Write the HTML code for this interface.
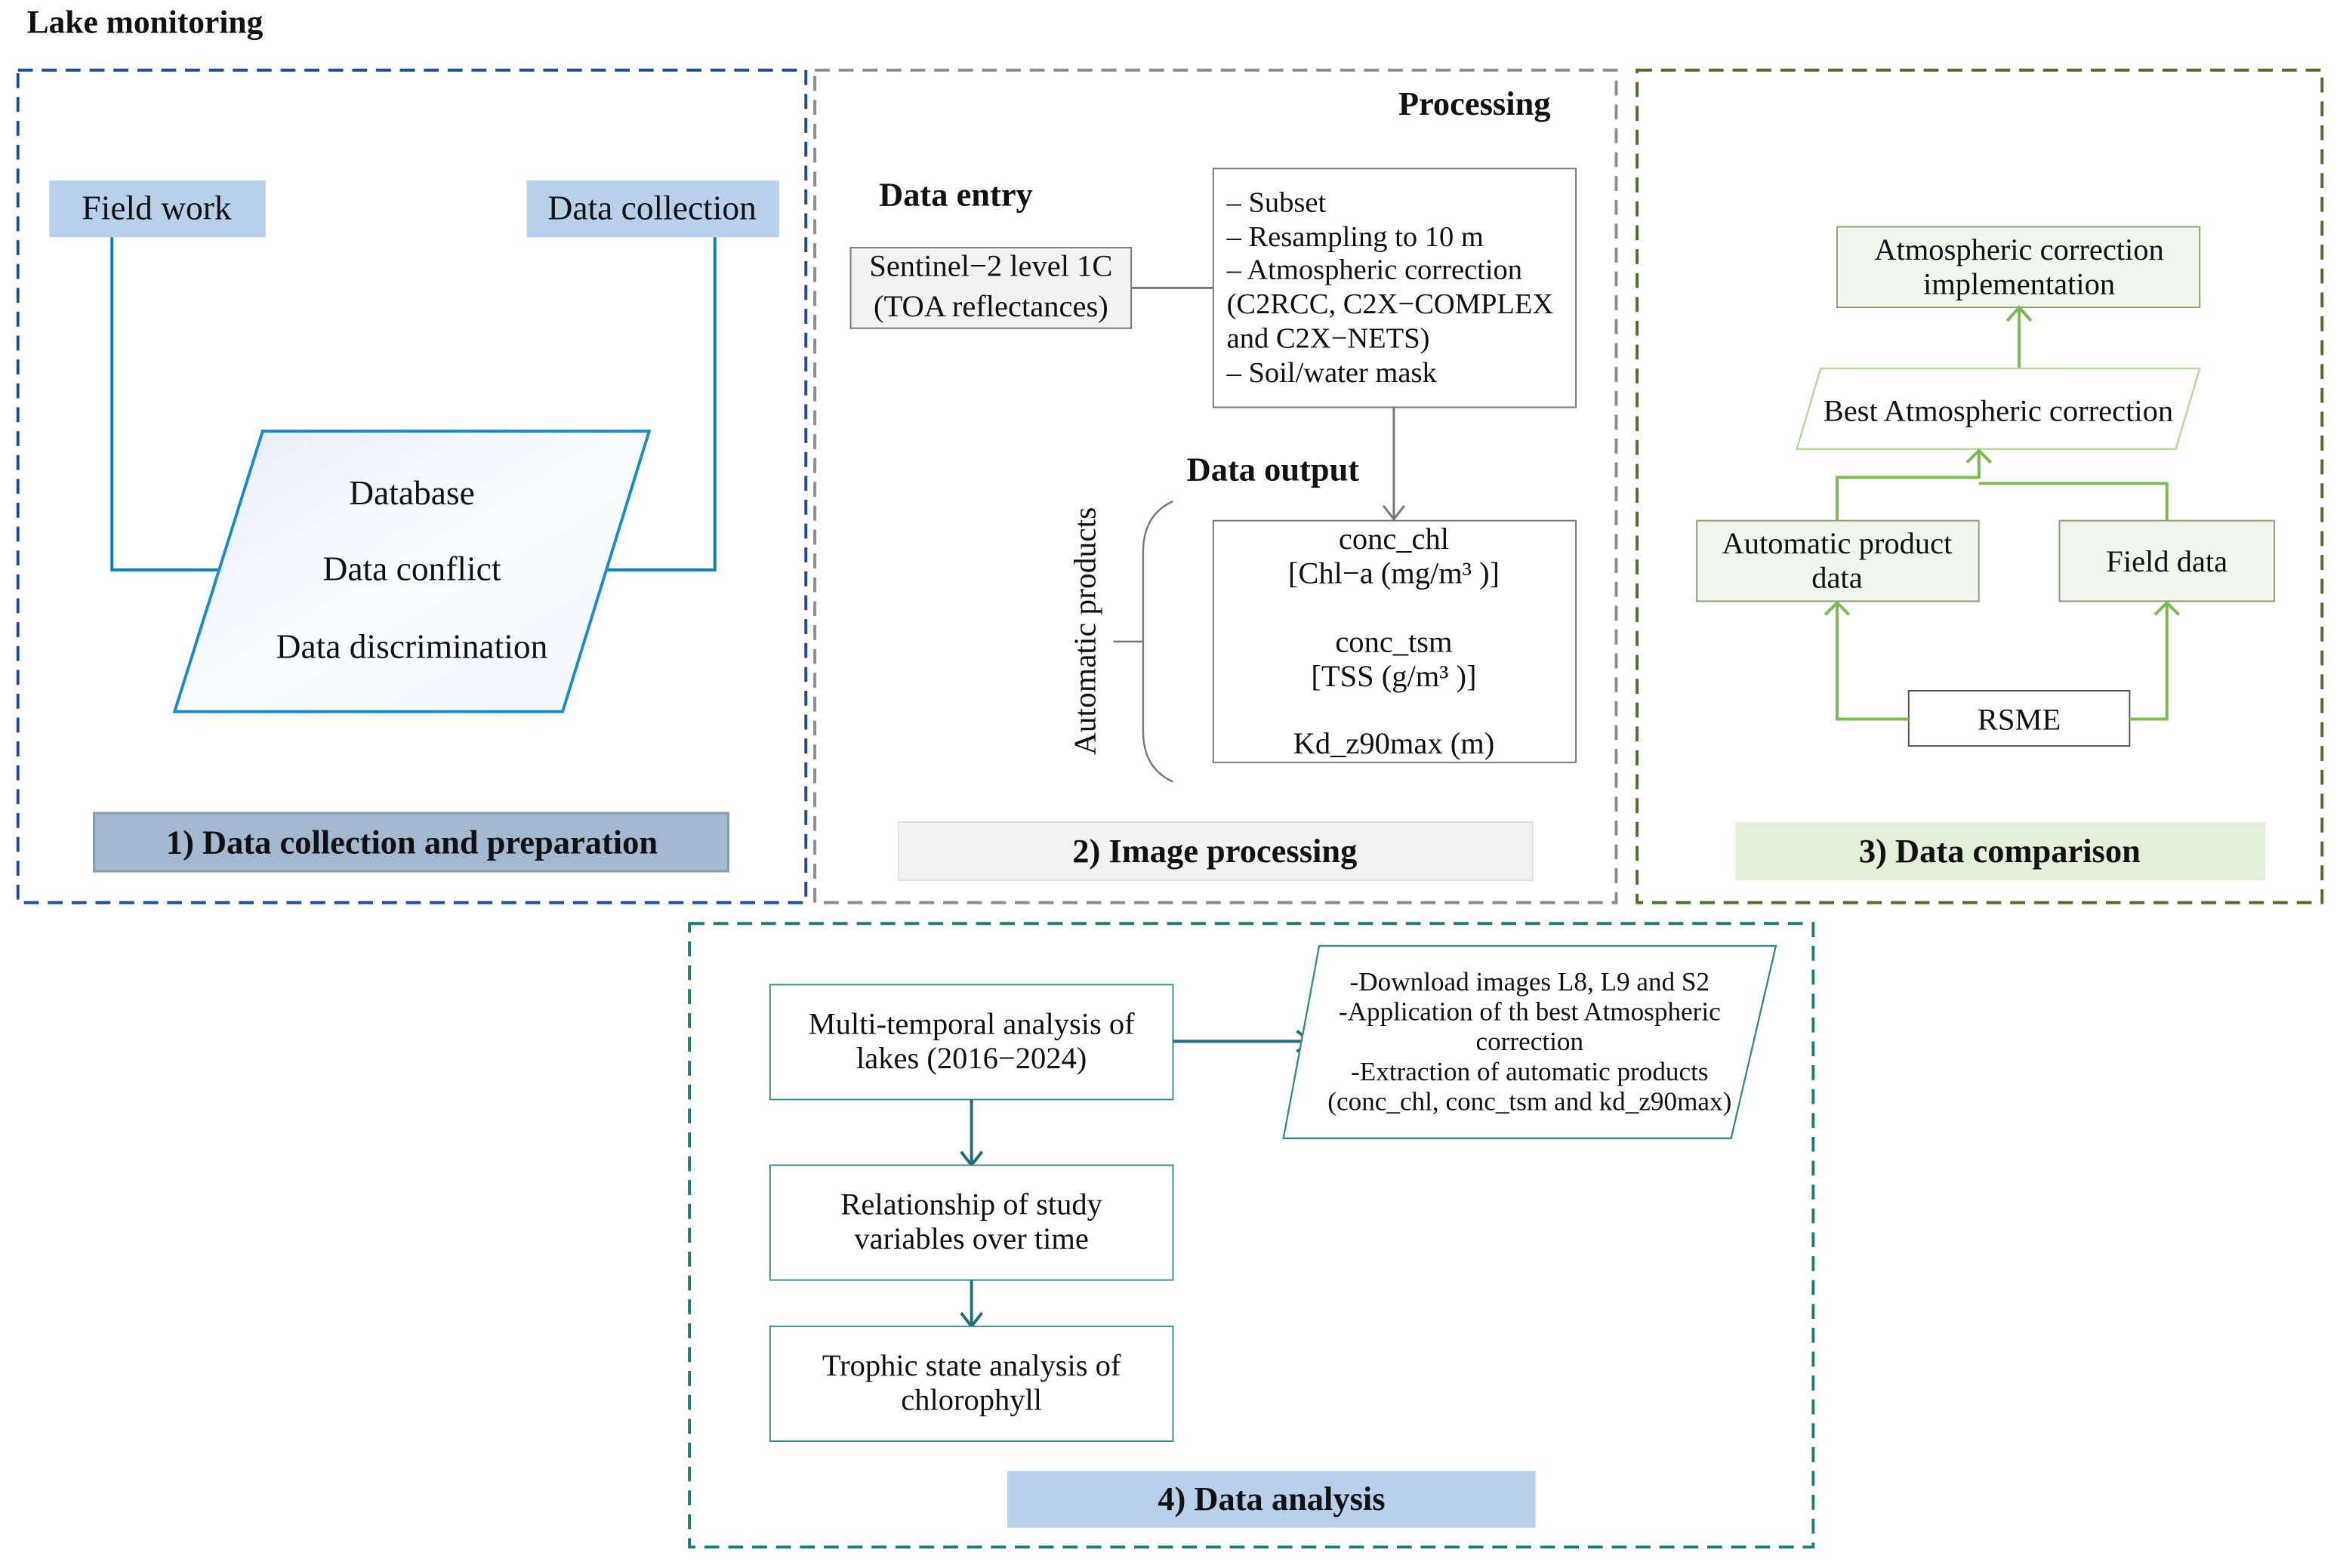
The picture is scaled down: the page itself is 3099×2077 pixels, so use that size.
<!DOCTYPE html>
<html><head><meta charset="utf-8"><style>
html,body{margin:0;padding:0;background:#fff;}
svg{display:block;}
text{font-family:"Liberation Serif",serif;fill:#111;}
.b{font-weight:bold;}
</style></head><body>
<svg width="3099" height="2077" viewBox="0 0 1568 1051" preserveAspectRatio="none" xmlns="http://www.w3.org/2000/svg">
<defs>
<linearGradient id="g1" x1="0" y1="0" x2="1" y2="1"><stop offset="0" stop-color="#e6ebf6"/><stop offset="0.5" stop-color="#fafcff"/><stop offset="1" stop-color="#f2f6fb"/></linearGradient>
</defs>
<text x="18" y="22" font-size="22" class="b">Lake monitoring</text>

<!-- Box 1 -->
<rect x="12" y="47" width="528" height="558" fill="none" stroke="#1f4e96" stroke-width="2" stroke-dasharray="10,6"/>
<rect x="33" y="121" width="145" height="38" fill="#b8d0ea"/>
<text x="105" y="147" font-size="23" text-anchor="middle">Field work</text>
<rect x="353" y="121" width="169" height="38" fill="#b8d0ea"/>
<text x="437" y="147" font-size="23" text-anchor="middle">Data collection</text>
<polyline points="75,159 75,382 147,382" fill="none" stroke="#0a7fc7" stroke-width="2"/>
<polyline points="479,159 479,382 405,382" fill="none" stroke="#0a7fc7" stroke-width="2"/>
<polygon points="176,289 435,289 377,477 117,477" fill="url(#g1)" stroke="#1a8ac9" stroke-width="2"/>
<text x="276" y="338" font-size="23" text-anchor="middle">Database</text>
<text x="276" y="389" font-size="23" text-anchor="middle">Data conflict</text>
<text x="276" y="441" font-size="23" text-anchor="middle">Data discrimination</text>
<rect x="63" y="545" width="425" height="39" fill="#a3b8d1" stroke="#8a9bb0" stroke-width="1.5"/>
<text x="276" y="572" font-size="22.5" text-anchor="middle" class="b">1) Data collection and preparation</text>

<!-- Box 2 -->
<rect x="546" y="47" width="537" height="558" fill="none" stroke="#8c8c8c" stroke-width="2" stroke-dasharray="10,6"/>
<text x="988" y="77" font-size="22.5" text-anchor="middle" class="b">Processing</text>
<text x="589" y="138" font-size="22.5" class="b">Data entry</text>
<rect x="570" y="166" width="188" height="54" fill="#f2f2f2" stroke="#777" stroke-width="1"/>
<text x="664" y="185" font-size="20.5" text-anchor="middle">Sentinel−2 level 1C</text>
<text x="664" y="212" font-size="20.5" text-anchor="middle">(TOA reflectances)</text>
<line x1="758" y1="193" x2="813" y2="193" stroke="#777" stroke-width="1.5"/>
<rect x="813" y="113" width="243" height="160" fill="#fff" stroke="#777" stroke-width="1"/>
<g font-size="19.5">
<text x="822" y="142">– Subset</text>
<text x="822" y="165">– Resampling to 10 m</text>
<text x="822" y="187">– Atmospheric correction</text>
<text x="822" y="210">(C2RCC, C2X−COMPLEX</text>
<text x="822" y="233">and C2X−NETS)</text>
<text x="822" y="256">– Soil/water mask</text>
</g>
<line x1="934" y1="273" x2="934" y2="348" stroke="#777" stroke-width="1.5"/>
<polyline points="927,339 934,348 941,339" fill="none" stroke="#777" stroke-width="1.5"/>
<text x="853" y="322" font-size="22.5" text-anchor="middle" class="b">Data output</text>
<rect x="813" y="349" width="243" height="162" fill="#fff" stroke="#777" stroke-width="1"/>
<g font-size="20.5" text-anchor="middle">
<text x="934" y="368">conc_chl</text>
<text x="934" y="391">[Chl−a (mg/m³ )]</text>
<text x="934" y="437">conc_tsm</text>
<text x="934" y="460">[TSS (g/m³ )]</text>
<text x="934" y="505">Kd_z90max (m)</text>
</g>
<path d="M786,336 Q766,345 766,370 L766,490 Q766,515 786,524" fill="none" stroke="#777" stroke-width="1.2"/>
<line x1="746" y1="430" x2="766" y2="430" stroke="#777" stroke-width="1.2"/>
<text transform="translate(734,423) rotate(-90)" font-size="21" text-anchor="middle">Automatic products</text>
<rect x="602" y="551" width="425" height="39" fill="#f2f2f2" stroke="#e0e0e0" stroke-width="1"/>
<text x="814" y="578" font-size="22.5" text-anchor="middle" class="b">2) Image processing</text>

<!-- Box 3 -->
<rect x="1097" y="47" width="459" height="558" fill="none" stroke="#4f6f2a" stroke-width="2" stroke-dasharray="10,6"/>
<rect x="1231" y="152" width="243" height="54" fill="#f2f7ee" stroke="#8aa070" stroke-width="1"/>
<text x="1353" y="174" font-size="20.5" text-anchor="middle">Atmospheric correction</text>
<text x="1353" y="197" font-size="20.5" text-anchor="middle">implementation</text>
<line x1="1353" y1="247" x2="1353" y2="207" stroke="#7cb854" stroke-width="2"/>
<polyline points="1345,215 1353,206 1361,215" fill="none" stroke="#7cb854" stroke-width="2"/>
<polygon points="1220,247 1474,247 1458,301 1204,301" fill="#fff" stroke="#b5d89a" stroke-width="1.2"/>
<text x="1339" y="282" font-size="20.5" text-anchor="middle">Best Atmospheric correction</text>
<polyline points="1231,349 1231,320 1326,320 1326,302" fill="none" stroke="#7cb854" stroke-width="2"/>
<polyline points="1318,310 1326,302 1334,310" fill="none" stroke="#7cb854" stroke-width="2"/>
<polyline points="1326,324 1452,324 1452,349" fill="none" stroke="#7cb854" stroke-width="2"/>
<rect x="1137" y="349" width="189" height="54" fill="#f2f7ee" stroke="#8aa070" stroke-width="1"/>
<text x="1231" y="371" font-size="20.5" text-anchor="middle">Automatic product</text>
<text x="1231" y="394" font-size="20.5" text-anchor="middle">data</text>
<rect x="1380" y="349" width="144" height="54" fill="#f2f7ee" stroke="#8aa070" stroke-width="1"/>
<text x="1452" y="383" font-size="20.5" text-anchor="middle">Field data</text>
<rect x="1279" y="463" width="148" height="37" fill="#fff" stroke="#555" stroke-width="1"/>
<text x="1353" y="489" font-size="20.5" text-anchor="middle">RSME</text>
<polyline points="1279,482 1231,482 1231,404" fill="none" stroke="#7cb854" stroke-width="2"/>
<polyline points="1223,412 1231,404 1239,412" fill="none" stroke="#7cb854" stroke-width="2"/>
<polyline points="1427,482 1452,482 1452,404" fill="none" stroke="#7cb854" stroke-width="2"/>
<polyline points="1444,412 1452,404 1460,412" fill="none" stroke="#7cb854" stroke-width="2"/>
<rect x="1163" y="551" width="355" height="39" fill="#e2efd9"/>
<text x="1340" y="578" font-size="22.5" text-anchor="middle" class="b">3) Data comparison</text>

<!-- Box 4 -->
<rect x="462" y="619" width="753" height="418" fill="none" stroke="#1f7a7a" stroke-width="2" stroke-dasharray="10,6"/>
<rect x="516" y="660" width="270" height="77" fill="#fff" stroke="#3e8a96" stroke-width="1"/>
<text x="651" y="693" font-size="20.5" text-anchor="middle">Multi-temporal analysis of</text>
<text x="651" y="716" font-size="20.5" text-anchor="middle">lakes (2016−2024)</text>
<line x1="786" y1="698" x2="877" y2="698" stroke="#1f6f7a" stroke-width="2"/>
<polyline points="869,691 878,698 869,705" fill="none" stroke="#1f6f7a" stroke-width="2"/>
<polygon points="884,634 1190,634 1160,763 860,763" fill="#fff" stroke="#3a8a8a" stroke-width="1.2"/>
<g font-size="17.8" text-anchor="middle">
<text x="1025" y="664">-Download images L8, L9 and S2</text>
<text x="1025" y="684">-Application of th best Atmospheric</text>
<text x="1025" y="704">correction</text>
<text x="1025" y="724">-Extraction of automatic products</text>
<text x="1025" y="744">(conc_chl, conc_tsm and kd_z90max)</text>
</g>
<line x1="651" y1="737" x2="651" y2="780" stroke="#1f6f7a" stroke-width="2"/>
<polyline points="644,772 651,781 658,772" fill="none" stroke="#1f6f7a" stroke-width="2"/>
<rect x="516" y="781" width="270" height="77" fill="#fff" stroke="#3e8a96" stroke-width="1"/>
<text x="651" y="814" font-size="20.5" text-anchor="middle">Relationship of study</text>
<text x="651" y="837" font-size="20.5" text-anchor="middle">variables over time</text>
<line x1="651" y1="858" x2="651" y2="888" stroke="#1f6f7a" stroke-width="2"/>
<polyline points="644,880 651,889 658,880" fill="none" stroke="#1f6f7a" stroke-width="2"/>
<rect x="516" y="889" width="270" height="77" fill="#fff" stroke="#3e8a96" stroke-width="1"/>
<text x="651" y="922" font-size="20.5" text-anchor="middle">Trophic state analysis of</text>
<text x="651" y="945" font-size="20.5" text-anchor="middle">chlorophyll</text>
<rect x="675" y="986" width="354" height="38" fill="#b8d0ea"/>
<text x="852" y="1012" font-size="22.5" text-anchor="middle" class="b">4) Data analysis</text>
</svg>
</body></html>
